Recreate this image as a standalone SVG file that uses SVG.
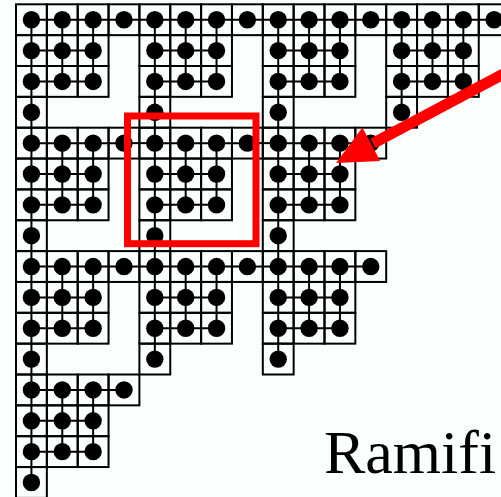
<svg xmlns="http://www.w3.org/2000/svg" xmlns:xlink="http://www.w3.org/1999/xlink" width="501" height="497" viewBox="0 0 501 497">
<style>
.cell{fill:none;stroke:#000;stroke-width:2}
.edge{stroke:#000;stroke-width:2;fill:none}
.dot{fill:#000}
.red{fill:none;stroke:#ff0000;stroke-width:7}
.lbl{font-family:"Liberation Serif","Times New Roman",serif;font-size:62px;fill:#000}
</style>
<defs>
<g id="blk">
<g class="cells">
<rect class="cell" x="0" y="0" width="30.85" height="30.85"/>
<rect class="cell" x="30.85" y="0" width="30.85" height="30.85"/>
<rect class="cell" x="61.7" y="0" width="30.85" height="30.85"/>
<rect class="cell" x="92.55" y="0" width="30.85" height="30.85"/>
<rect class="cell" x="0" y="30.85" width="30.85" height="30.85"/>
<rect class="cell" x="30.85" y="30.85" width="30.85" height="30.85"/>
<rect class="cell" x="61.7" y="30.85" width="30.85" height="30.85"/>
<rect class="cell" x="0" y="61.7" width="30.85" height="30.85"/>
<rect class="cell" x="30.85" y="61.7" width="30.85" height="30.85"/>
<rect class="cell" x="61.7" y="61.7" width="30.85" height="30.85"/>
<rect class="cell" x="0" y="92.55" width="30.85" height="30.85"/>
</g>
<g class="links">
<line class="edge" x1="15.43" y1="15.43" x2="107.98" y2="15.43"/>
<line class="edge" x1="15.43" y1="46.28" x2="77.13" y2="46.28"/>
<line class="edge" x1="15.43" y1="77.13" x2="77.13" y2="77.13"/>
<line class="edge" x1="15.43" y1="15.43" x2="15.43" y2="107.98"/>
<line class="edge" x1="46.28" y1="15.43" x2="46.28" y2="77.13"/>
<line class="edge" x1="77.13" y1="15.43" x2="77.13" y2="77.13"/>
</g>
<g class="dots">
<circle class="dot" cx="15.43" cy="15.43" r="8.7"/>
<circle class="dot" cx="46.28" cy="15.43" r="8.7"/>
<circle class="dot" cx="77.13" cy="15.43" r="8.7"/>
<circle class="dot" cx="107.98" cy="15.43" r="8.7"/>
<circle class="dot" cx="15.43" cy="46.28" r="8.7"/>
<circle class="dot" cx="46.28" cy="46.28" r="8.7"/>
<circle class="dot" cx="77.13" cy="46.28" r="8.7"/>
<circle class="dot" cx="15.43" cy="77.13" r="8.7"/>
<circle class="dot" cx="46.28" cy="77.13" r="8.7"/>
<circle class="dot" cx="77.13" cy="77.13" r="8.7"/>
<circle class="dot" cx="15.43" cy="107.98" r="8.7"/>
</g>
</g>
</defs>
<rect x="0" y="0" width="501" height="497" fill="#fbfffb"/>
<g id="connectors">
<line class="edge" x1="123.98" y1="19.73" x2="155" y2="19.73"/>
<line class="edge" x1="247.38" y1="19.73" x2="278.4" y2="19.73"/>
<line class="edge" x1="370.78" y1="19.73" x2="401.8" y2="19.73"/>
<line class="edge" x1="494.18" y1="19.73" x2="510" y2="19.73"/>
<line class="edge" x1="123.98" y1="143.13" x2="155" y2="143.13"/>
<line class="edge" x1="247.38" y1="143.13" x2="278.4" y2="143.13"/>
<line class="edge" x1="123.98" y1="266.53" x2="155" y2="266.53"/>
<line class="edge" x1="247.38" y1="266.53" x2="278.4" y2="266.53"/>
<line class="edge" x1="31.43" y1="112.28" x2="31.43" y2="143.13"/>
<line class="edge" x1="154.83" y1="112.28" x2="154.83" y2="143.13"/>
<line class="edge" x1="278.23" y1="112.28" x2="278.23" y2="143.13"/>
<line class="edge" x1="31.43" y1="235.68" x2="31.43" y2="266.53"/>
<line class="edge" x1="154.83" y1="235.68" x2="154.83" y2="266.53"/>
<line class="edge" x1="278.23" y1="235.68" x2="278.23" y2="266.53"/>
<line class="edge" x1="31.43" y1="359.08" x2="31.43" y2="389.93"/>
</g>
<g id="block-0-0"><use xlink:href="#blk" href="#blk" x="16" y="4.3"/></g>
<g id="block-1-0"><use xlink:href="#blk" href="#blk" x="139.4" y="4.3"/></g>
<g id="block-2-0"><use xlink:href="#blk" href="#blk" x="262.8" y="4.3"/></g>
<g id="block-3-0"><use xlink:href="#blk" href="#blk" x="386.2" y="4.3"/></g>
<g id="block-0-1"><use xlink:href="#blk" href="#blk" x="16" y="127.7"/></g>
<g id="block-1-1"><use xlink:href="#blk" href="#blk" x="139.4" y="127.7"/></g>
<g id="block-2-1"><use xlink:href="#blk" href="#blk" x="262.8" y="127.7"/></g>
<g id="block-0-2"><use xlink:href="#blk" href="#blk" x="16" y="251.1"/></g>
<g id="block-1-2"><use xlink:href="#blk" href="#blk" x="139.4" y="251.1"/></g>
<g id="block-2-2"><use xlink:href="#blk" href="#blk" x="262.8" y="251.1"/></g>
<g id="block-0-3"><use xlink:href="#blk" href="#blk" x="16" y="374.5"/></g>
<rect id="highlight" class="red" x="127.5" y="116" width="128.5" height="127.7"/>
<g id="pointer">
<line x1="373" y1="143.3" x2="525" y2="62.5" stroke="#ff0000" stroke-width="11"/>
<polygon points="336,163 362.4,127.4 380.2,161" fill="#ff0000"/>
</g>
<text class="lbl" x="324" y="473">Ramifi</text>
</svg>
